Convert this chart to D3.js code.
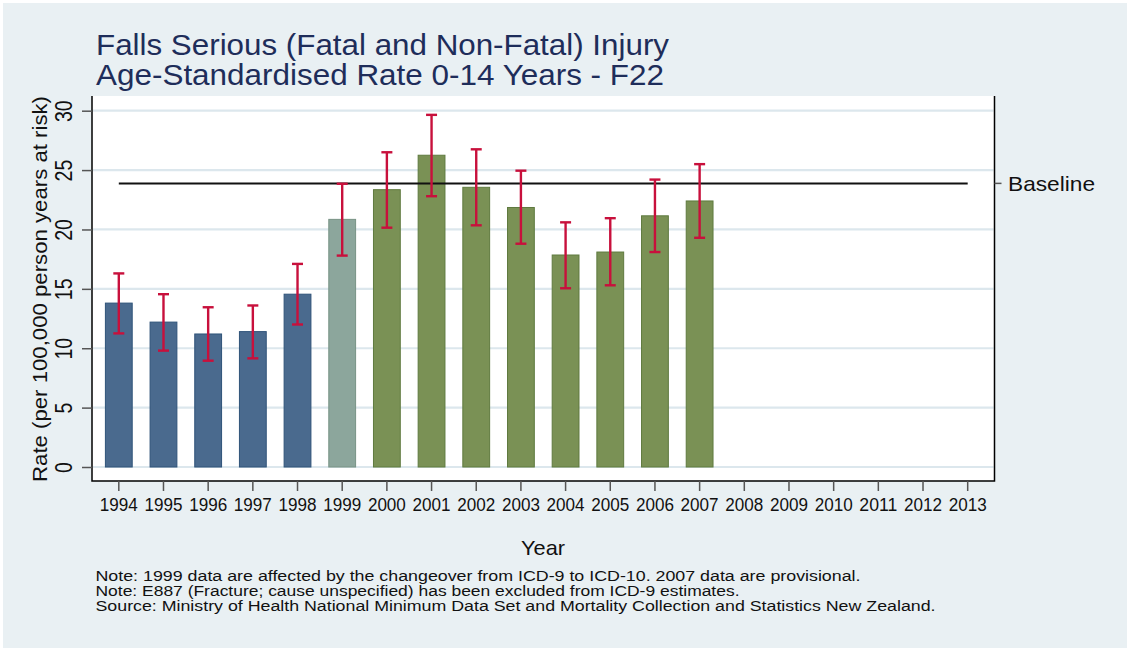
<!DOCTYPE html>
<html>
<head>
<meta charset="utf-8">
<script src="https://cdn.jsdelivr.net/npm/d3@7"></script>
<style>
  body { margin: 0; background: #ffffff; }
  text { font-family: "Liberation Sans", Arial, sans-serif; }
</style>
</head>
<body>
<div id="chart-area"></div>
<script>

// Data
let years = ["1994","1995","1996","1997","1998","1999","2000","2001","2002","2003",
             "2004","2005","2006","2007","2008","2009","2010","2011","2012","2013"];
let rates = [13.8, 12.2, 11.2, 11.4, 14.55, 20.85, 23.35, 26.25, 23.55, 21.85,
             17.85, 18.1, 21.15, 22.4];
let lowerCI = [11.25, 9.8, 8.95, 9.15, 12.0, 17.8, 20.15, 22.8, 20.35, 18.8,
               15.05, 15.3, 18.1, 19.3];
let upperCI = [16.3, 14.55, 13.45, 13.6, 17.1, 23.85, 26.5, 29.65, 26.75, 24.95,
               20.6, 20.95, 24.2, 25.5];
let periods = ["ICD-9","ICD-9","ICD-9","ICD-9","ICD-9","Changeover","ICD-10","ICD-10","ICD-10","ICD-10",
               "ICD-10","ICD-10","ICD-10","ICD-10"];
let baseline = 23.88;
let yTicks = [0, 5, 10, 15, 20, 25, 30];

let titleLines = ["Falls Serious (Fatal and Non-Fatal) Injury",
                  "Age-Standardised Rate 0-14 Years - F22"];
let notes = ["Note: 1999 data are affected by the changeover from ICD-9 to ICD-10. 2007 data are provisional.",
             "Note: E887 (Fracture; cause unspecified) has been excluded from ICD-9 estimates.",
             "Source: Ministry of Health National Minimum Data Set and Mortality Collection and Statistics New Zealand."];

let data = rates.map((r, i) => ({year: years[i], rate: r, lo: lowerCI[i], hi: upperCI[i], period: periods[i]}));

let width = 1129, height = 649;
let plot = {left: 92, right: 994.5, top: 96, bottom: 481};

let svg = d3.select("#chart-area").append("svg")
	.attr("width", width)
	.attr("height", height);

// background
svg.append("rect")
	.attr("x", 3).attr("y", 3)
	.attr("width", width - 5).attr("height", height - 4)
	.attr("fill", "#e9f0f3");

svg.append("rect")
	.attr("x", plot.left).attr("y", plot.top)
	.attr("width", plot.right - plot.left).attr("height", plot.bottom - plot.top)
	.attr("fill", "#ffffff");

// scales
let x = d3.scaleBand()
	.domain(years)
	.range([plot.left, plot.right])
	.paddingInner(0.4)
	.paddingOuter(0.3);

let y = d3.scaleLinear()
	.domain([0, 30])
	.range([467, 110.7]);

let colour = d3.scaleOrdinal()
	.domain(["ICD-9", "Changeover", "ICD-10"])
	.range(["#4a6a8e", "#8ca69c", "#7a9155"]);
let strokeColour = d3.scaleOrdinal()
	.domain(["ICD-9", "Changeover", "ICD-10"])
	.range(["#2f5379", "#789385", "#5f7a3f"]);

// gridlines
svg.append("g")
	.selectAll("line")
	.data(yTicks)
	.enter()
	.append("line")
	.attr("x1", plot.left + 1).attr("x2", plot.right - 1)
	.attr("y1", d => y(d)).attr("y2", d => y(d))
	.attr("stroke", "#dce7ed")
	.attr("stroke-width", 2.2);

// bars
svg.append("g")
	.selectAll("rect")
	.data(data)
	.enter()
	.append("rect")
	.attr("x", d => x(d.year))
	.attr("width", x.bandwidth())
	.attr("y", d => y(d.rate))
	.attr("height", d => y(0) - y(d.rate))
	.attr("fill", d => colour(d.period))
	.attr("stroke", d => strokeColour(d.period))
	.attr("stroke-width", 1);

// baseline
svg.append("line")
	.attr("x1", x(years[0]) + x.bandwidth() / 2)
	.attr("x2", x(years[years.length - 1]) + x.bandwidth() / 2)
	.attr("y1", y(baseline)).attr("y2", y(baseline))
	.attr("stroke", "#111")
	.attr("stroke-width", 2);

// error bars
let errG = svg.append("g")
	.attr("stroke", "#c8103c")
	.attr("stroke-width", 2.4);
let cx = d => x(d.year) + x.bandwidth() / 2;
errG.selectAll(".stem").data(data).enter().append("line")
	.attr("x1", cx).attr("x2", cx)
	.attr("y1", d => y(d.lo)).attr("y2", d => y(d.hi));
errG.selectAll(".capHi").data(data).enter().append("line")
	.attr("x1", d => cx(d) - 5.5).attr("x2", d => cx(d) + 5.5)
	.attr("y1", d => y(d.hi)).attr("y2", d => y(d.hi));
errG.selectAll(".capLo").data(data).enter().append("line")
	.attr("x1", d => cx(d) - 5.5).attr("x2", d => cx(d) + 5.5)
	.attr("y1", d => y(d.lo)).attr("y2", d => y(d.lo));

// axes frame
svg.append("path")
	.attr("d", "M" + plot.left + "," + plot.top + "V" + plot.bottom + "H" + plot.right + "V" + plot.top)
	.attr("fill", "none")
	.attr("stroke", "#000")
	.attr("stroke-width", 1.5);

// y axis
let yAxis = svg.append("g")
	.attr("transform", "translate(" + plot.left + ",0)")
	.call(d3.axisLeft(y).tickValues(yTicks).tickSize(10).tickFormat(d3.format("d")));
yAxis.select(".domain").remove();
yAxis.selectAll(".tick line").attr("stroke", "#555").attr("stroke-width", 1.5);
yAxis.selectAll(".tick text")
	.attr("x", null).attr("dy", null)
	.attr("transform", "translate(-20,0) rotate(-90) scale(0.85,1.08)")
	.attr("text-anchor", "middle")
	.attr("dy", "0em")
	.attr("font-size", 23)
	.attr("font-family", "Liberation Sans, Arial, sans-serif")
	.attr("fill", "#111");

// x axis
let xAxis = svg.append("g")
	.attr("transform", "translate(0," + plot.bottom + ")")
	.call(d3.axisBottom(x).tickSize(10).tickPadding(8));
xAxis.select(".domain").remove();
xAxis.selectAll(".tick line").attr("stroke", "#555").attr("stroke-width", 1.5);
xAxis.selectAll(".tick text")
	.attr("y", 30).attr("dy", null)
	.attr("font-size", 18)
	.attr("font-family", "Liberation Sans, Arial, sans-serif")
	.attr("fill", "#111")
	.attr("textLength", 38)
	.attr("lengthAdjust", "spacingAndGlyphs");

// baseline label on right axis
svg.append("line")
	.attr("x1", plot.right).attr("x2", plot.right + 7)
	.attr("y1", y(baseline)).attr("y2", y(baseline))
	.attr("stroke", "#555").attr("stroke-width", 1.5);
svg.append("text")
	.attr("x", 1008)
	.attr("y", y(baseline) + 7.5)
	.attr("font-size", 21)
	.attr("fill", "#111")
	.attr("textLength", 87)
	.attr("lengthAdjust", "spacingAndGlyphs")
	.text("Baseline");

// titles
svg.append("g")
	.selectAll("text")
	.data(titleLines)
	.enter()
	.append("text")
	.attr("x", 96)
	.attr("y", (d, i) => 55 + i * 30)
	.attr("font-size", 29)
	.attr("fill", "#1e2d5a")
	.attr("textLength", (d, i) => [573, 568][i])
	.attr("lengthAdjust", "spacingAndGlyphs")
	.text(d => d);

// axis titles
svg.append("text")
	.attr("transform", "translate(47,289) rotate(-90)")
	.attr("text-anchor", "middle")
	.attr("font-size", 20.5)
	.attr("fill", "#111")
	.attr("textLength", 386)
	.attr("lengthAdjust", "spacingAndGlyphs")
	.text("Rate (per 100,000 person years at risk)");

svg.append("text")
	.attr("x", 543)
	.attr("y", 555)
	.attr("text-anchor", "middle")
	.attr("font-size", 21)
	.attr("fill", "#111")
	.attr("textLength", 44)
	.attr("lengthAdjust", "spacingAndGlyphs")
	.text("Year");

// notes
svg.append("g")
	.selectAll("text")
	.data(notes)
	.enter()
	.append("text")
	.attr("x", 95.5)
	.attr("y", (d, i) => 581 + i * 14.8)
	.attr("font-size", 15.5)
	.attr("fill", "#111")
	.attr("textLength", (d, i) => [765, 644, 840][i])
	.attr("lengthAdjust", "spacingAndGlyphs")
	.text(d => d);

</script>
</body>
</html>
